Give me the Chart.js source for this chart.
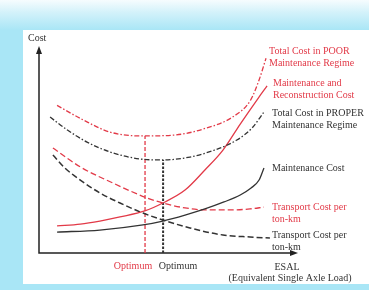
<!DOCTYPE html>
<html lang="en">
<head>
<meta charset="UTF-8">
<title>ESAL cost curves</title>
<script src="https://cdn.jsdelivr.net/npm/chart.js"></script>
<style>
  html, body { margin: 0; padding: 0; }
  body {
    width: 369px; height: 290px; overflow: hidden; position: relative;
    background: #a9e6f6;
  }
  #glow {
    position: absolute; left: 0; top: 0; width: 369px; height: 30px;
    background: linear-gradient(to bottom, #f6fcfe 0%, #d4f2fa 40%, #a9e6f6 100%);
  }
  #panel {
    position: absolute; left: 23px; top: 30px; width: 346px; height: 254px;
    background: #fff;
  }
  #chart { position: absolute; left: 0; top: 0; }
</style>
</head>
<body>
<div id="glow"></div>
<div id="panel"></div>
<canvas id="chart" width="369" height="290"></canvas>

<script>
// curve values (x = ESAL, y = cost, both 0-100)
const poorX = [7, 17, 27.5, 40, 53, 65, 75, 82, 85.3, 88];
const poorY = [72, 65, 59, 57.1, 57.6, 61, 66.3, 74.6, 84.4, 95];

const properX = [4.3, 11, 18.6, 27.5, 39, 48, 58.5, 68, 76.7, 82.6, 87.2];
const properY = [66.3, 60, 54.1, 49.3, 45.9, 45.4, 46.8, 50.2, 55.1, 61, 68.8];

const mrX = [7, 16, 23.6, 31.4, 41, 48, 56.6, 64.3, 71.3, 78, 85, 88.4];
const mrY = [13.2, 14.1, 15.6, 17.6, 20.5, 24.4, 30.7, 40.5, 50.2, 62.9, 75.6, 81.5];

const maintX = [7, 23.6, 40.3, 48, 56.6, 64.3, 71.7, 78, 82.2, 85.3, 87.2];
const maintY = [10.2, 11.2, 13.7, 15.6, 18.5, 21.5, 24.9, 28.3, 31.7, 35.6, 41.5];

const transRedX = [5.4, 16, 28.7, 42, 48, 56.6, 65, 74, 81.8, 87.2];
const transRedY = [51.2, 42, 34.1, 26.8, 24.4, 22, 21, 21, 21.5, 22.4];

const transBlackX = [5.4, 10, 16, 23.6, 31.4, 40.3, 48, 58.5, 71.3, 81.8, 89.5];
const transBlackY = [47.8, 41.5, 35.6, 29.3, 24.4, 19.5, 16.1, 12.2, 8.8, 7.8, 7.3];

// optimum markers: [poor regime, proper regime]
const optimumX = [41.1, 48.1];
const optimumTop = [57.1, 45.4];

const RED = "#e23a48";
const BLACK = "#333";

function pts(xs, ys) {
  return xs.map((x, i) => ({ x: x, y: ys[i] }));
}

function curve(xs, ys, color, dash, width) {
  return {
    data: pts(xs, ys),
    borderColor: color,
    borderWidth: width || 1.3,
    borderDash: dash || [],
    pointRadius: 0,
    cubicInterpolationMode: "monotone",
    fill: false
  };
}

function vline(i, color, dash, width) {
  return {
    data: [{ x: optimumX[i], y: 0 }, { x: optimumX[i], y: optimumTop[i] }],
    borderColor: color,
    borderWidth: width,
    borderDash: dash,
    pointRadius: 0,
    fill: false
  };
}

const datasets = [
  curve(poorX, poorY, RED, [5, 2, 1.5, 2]),
  curve(properX, properY, BLACK, [5, 2, 1.5, 2]),
  curve(mrX, mrY, RED),
  curve(maintX, maintY, BLACK),
  curve(transRedX, transRedY, RED, [6, 3]),
  curve(transBlackX, transBlackY, BLACK, [6, 3], 1.5),
  vline(0, RED, [4, 2], 1.3),
  vline(1, BLACK, [2.5, 1.5], 2)
];

// axes with arrow heads + all the text labels
const decor = {
  id: "decor",
  beforeDatasetsDraw(chart) {
    const ctx = chart.ctx;
    const a = chart.chartArea;
    ctx.save();
    ctx.strokeStyle = "#222";
    ctx.fillStyle = "#222";
    ctx.lineWidth = 1.5;
    ctx.beginPath();
    ctx.moveTo(a.left, a.top + 4);
    ctx.lineTo(a.left, a.bottom);
    ctx.lineTo(a.right - 4, a.bottom);
    ctx.stroke();
    // arrow up
    ctx.beginPath();
    ctx.moveTo(a.left, a.top - 2);
    ctx.lineTo(a.left - 3, a.top + 6);
    ctx.lineTo(a.left + 3, a.top + 6);
    ctx.closePath();
    ctx.fill();
    // arrow right
    ctx.beginPath();
    ctx.moveTo(a.right + 1, a.bottom);
    ctx.lineTo(a.right - 7, a.bottom - 3);
    ctx.lineTo(a.right - 7, a.bottom + 3);
    ctx.closePath();
    ctx.fill();
    ctx.restore();
  },
  afterDraw(chart) {
    const ctx = chart.ctx;
    ctx.save();
    ctx.font = '10px "Liberation Serif"';
    ctx.textBaseline = "middle";
    const labels = [
      { t: ["Total Cost in POOR", "Maintenance Regime"], x: 269, y: 51, c: RED },
      { t: ["Maintenance and", "Reconstruction Cost"], x: 273, y: 83, c: RED },
      { t: ["Total Cost in PROPER", "Maintenance Regime"], x: 272, y: 113, c: BLACK },
      { t: ["Maintenance Cost"], x: 272, y: 168, c: BLACK },
      { t: ["Transport Cost per", "ton-km"], x: 272, y: 207, c: RED },
      { t: ["Transport Cost per", "ton-km"], x: 272, y: 235, c: BLACK },
      { t: ["Cost"], x: 28, y: 38, c: BLACK }
    ];
    labels.forEach(l => {
      ctx.fillStyle = l.c;
      l.t.forEach((s, i) => ctx.fillText(s, l.x, l.y + i * 12));
    });
    ctx.textAlign = "center";
    ctx.fillStyle = RED;
    ctx.fillText("Optimum", 133, 266);
    ctx.fillStyle = BLACK;
    ctx.fillText("Optimum", 178, 266);
    ctx.fillText("ESAL", 287, 267);
    ctx.fillText("(Equivalent Single Axle Load)", 290, 278);
    ctx.restore();
  }
};

new Chart(document.getElementById("chart").getContext("2d"), {
  type: "line",
  data: { datasets: datasets },
  options: {
    responsive: false,
    animation: false,
    devicePixelRatio: 1,
    layout: { padding: { left: 39, right: 72, top: 48, bottom: 37 } },
    plugins: { legend: { display: false }, tooltip: { enabled: false } },
    scales: {
      x: { type: "linear", min: 0, max: 100, display: false },
      y: { type: "linear", min: 0, max: 100, display: false }
    }
  },
  plugins: [decor]
});
</script>
</body>
</html>
